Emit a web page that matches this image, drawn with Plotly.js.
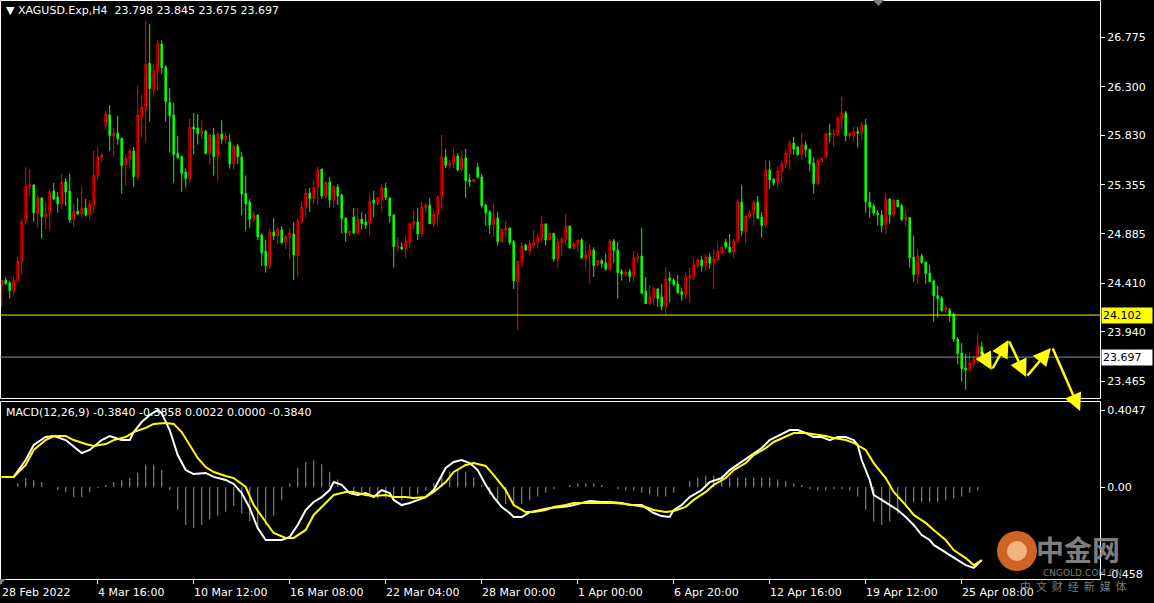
<!DOCTYPE html>
<html>
<head>
<meta charset="utf-8">
<script src="https://cdn.plot.ly/plotly-3.0.1.min.js"></script>
<style>
html,body{margin:0;padding:0;background:#000;}
#chart{width:1154px;height:603px;}
</style>
</head>
<body>
<div id="chart"></div>
<script>
// ---- Candles (H4 bars, index 0 = 28 Feb 2022 16:00) ----
const openP = [24.385,24.436,24.411,24.337,24.433,24.616,25.001,25.338,25.354,25.074,25.228,25.049,25.078,25.296,25.238,25.174,25.383,25.296,25.020,25.103,25.074,25.132,25.068,25.155,25.447,25.617,25.925,26.027,25.828,25.854,25.803,25.549,25.607,25.681,25.434,26.005,26.079,26.525,26.271,26.444,26.711,26.489,26.149,26.027,25.658,25.629,25.479,25.415,25.912,25.902,25.847,25.873,25.655,25.835,25.626,25.844,25.799,25.767,25.559,25.729,25.623,25.273,25.190,
25.030,25.065,24.872,24.718,24.577,24.901,24.866,24.921,24.808,24.847,24.882,24.673,25.001,25.139,25.276,25.222,25.331,25.507,25.241,25.382,25.212,25.334,25.257,25.036,24.892,25.046,24.888,25.026,24.997,24.985,25.209,25.183,25.215,25.325,25.228,25.065,24.757,24.757,24.741,24.808,24.975,24.997,24.882,25.135,25.161,24.981,25.068,25.235,25.623,25.540,25.559,25.633,25.501,25.614,25.401,25.385,25.524,25.431,25.161,25.094,24.972,
25.036,24.808,24.914,24.940,24.808,24.423,24.609,24.776,24.719,24.776,24.799,24.837,24.978,24.828,24.889,24.645,24.799,24.831,24.959,24.754,24.783,24.824,24.645,24.670,24.728,24.587,24.625,24.603,24.539,24.815,24.728,24.520,24.488,24.520,24.472,24.645,24.670,24.334,24.212,24.266,24.353,24.276,24.183,24.459,24.439,24.401,24.327,24.298,24.462,24.472,24.574,24.632,24.577,24.661,24.606,24.632,24.699,24.805,24.757,24.709,24.805,25.190,
24.905,25.049,25.078,25.190,25.046,24.969,25.498,25.411,25.376,25.482,25.549,25.655,25.758,25.719,25.646,25.739,25.697,25.565,25.363,25.578,25.623,25.848,25.838,25.838,25.986,26.047,25.828,25.828,25.867,25.857,25.931,25.190,25.152,25.084,25.065,24.972,25.219,25.068,25.209,25.155,25.020,25.039,24.661,24.491,24.670,24.613,24.507,24.430,24.289,24.266,24.151,24.151,24.112,23.871,23.737,23.593,23.576,23.634,23.663,23.798];
const highP = [24.436,24.465,24.430,24.478,24.667,25.033,25.524,25.508,25.363,25.254,25.238,25.199,25.315,25.373,25.286,25.460,25.421,25.460,25.177,25.228,25.341,25.219,25.209,25.681,25.726,25.661,26.075,26.123,25.905,26.018,25.809,25.649,25.700,25.719,26.310,26.220,26.932,26.903,26.525,26.749,26.749,26.508,26.287,26.143,25.828,25.629,25.514,25.989,26.046,26.037,25.976,25.883,25.851,25.899,25.867,25.976,25.857,25.841,25.738,25.748,25.674,25.444,25.219,
25.100,25.065,24.888,24.824,24.940,25.036,24.946,24.959,24.872,24.940,24.997,25.026,25.199,25.315,25.325,25.411,25.527,25.507,25.385,25.431,25.353,25.363,25.273,25.036,24.908,25.132,25.132,25.090,25.074,25.267,25.296,25.241,25.360,25.373,25.238,25.071,24.853,24.805,24.863,24.991,25.103,25.132,25.190,25.180,25.228,25.103,25.257,25.835,25.700,25.591,25.710,25.662,25.681,25.700,25.459,25.408,25.565,25.459,25.171,25.113,25.171,
25.094,24.927,25.007,24.940,24.824,24.619,24.805,24.786,24.824,24.921,24.882,25.055,24.985,24.889,24.889,24.840,24.856,25.075,24.959,24.802,24.824,24.844,24.805,24.786,24.754,24.625,24.642,24.690,24.834,24.834,24.805,24.545,24.536,24.545,24.719,24.699,24.940,24.468,24.391,24.375,24.362,24.401,24.558,24.520,24.459,24.488,24.366,24.510,24.558,24.651,24.651,24.674,24.690,24.699,24.738,24.796,24.757,24.834,24.882,24.834,25.219,25.354,
25.055,25.113,25.200,25.248,25.094,25.594,25.585,25.420,25.536,25.585,25.694,25.787,25.816,25.729,25.854,25.777,25.703,25.623,25.613,25.613,25.854,25.944,25.893,26.008,26.201,26.066,25.864,25.912,25.912,25.960,25.989,25.286,25.171,25.113,25.113,25.277,25.229,25.219,25.209,25.171,25.113,25.046,24.866,24.738,24.693,24.616,24.584,24.443,24.385,24.285,24.199,24.170,24.125,23.891,23.833,23.730,23.740,23.711,23.923,23.845];
const lowP = [24.183,24.391,24.260,24.289,24.423,24.487,24.969,25.241,25.001,24.943,24.837,24.930,24.914,25.209,25.087,25.126,25.151,24.988,24.953,25.065,25.036,25.052,25.020,25.087,25.402,25.572,25.883,25.684,25.626,25.742,25.270,25.347,25.511,25.334,25.402,25.809,25.761,25.963,26.204,26.261,26.425,25.963,25.665,25.376,25.604,25.290,25.328,25.376,25.645,25.742,25.796,25.652,25.549,25.444,25.386,25.751,25.751,25.511,25.501,25.556,25.065,24.914,24.943,
24.991,24.824,24.574,24.510,24.545,24.824,24.786,24.792,24.737,24.644,24.439,24.468,24.985,25.039,25.094,25.171,25.161,25.219,25.231,25.139,25.135,25.161,24.888,24.808,24.863,24.879,24.885,24.924,24.930,24.866,25.046,25.155,25.097,25.209,24.991,24.558,24.712,24.728,24.654,24.744,24.921,24.824,24.853,25.087,24.978,24.943,24.962,25.116,25.517,25.504,25.517,25.482,25.488,25.231,25.337,25.385,25.414,25.135,24.962,24.885,24.856,
24.770,24.808,24.847,24.776,24.353,23.958,24.565,24.719,24.680,24.751,24.744,24.802,24.770,24.828,24.616,24.558,24.674,24.776,24.738,24.728,24.709,24.642,24.539,24.404,24.468,24.577,24.558,24.529,24.529,24.606,24.260,24.433,24.481,24.423,24.423,24.603,24.301,24.212,24.199,24.199,24.183,24.144,24.106,24.221,24.375,24.308,24.241,24.250,24.221,24.443,24.558,24.520,24.532,24.548,24.353,24.622,24.699,24.738,24.699,24.654,24.796,24.866,
24.789,25.030,24.962,25.023,24.847,24.953,25.315,25.344,25.328,25.376,25.520,25.501,25.642,25.636,25.597,25.623,25.482,25.270,25.354,25.568,25.607,25.761,25.722,25.828,25.889,25.771,25.800,25.771,25.713,25.780,25.087,25.039,25.059,24.962,24.895,24.876,24.982,25.039,25.139,25.007,24.953,24.558,24.423,24.404,24.597,24.404,24.417,24.038,24.077,24.135,24.125,24.038,23.846,23.625,23.461,23.384,23.548,23.596,23.634,23.675];
const closeP = [24.436,24.404,24.337,24.433,24.622,24.994,25.341,25.354,25.087,25.228,25.049,25.074,25.283,25.219,25.171,25.379,25.286,25.017,25.100,25.074,25.129,25.065,25.167,25.447,25.620,25.642,26.034,25.828,25.854,25.799,25.540,25.610,25.681,25.434,26.027,26.101,26.515,26.281,26.451,26.711,26.483,26.156,26.021,25.645,25.617,25.463,25.415,25.909,25.892,25.847,25.873,25.655,25.835,25.626,25.844,25.796,25.825,25.559,25.729,25.626,25.267,25.174,25.026,
25.062,24.856,24.702,24.577,24.898,24.863,24.930,24.798,24.856,24.888,24.680,25.007,25.142,25.276,25.222,25.331,25.498,25.248,25.379,25.212,25.337,25.248,25.030,24.895,24.908,24.892,25.023,24.981,24.968,25.196,25.180,25.231,25.325,25.231,25.058,24.760,24.766,24.737,24.814,24.978,24.997,24.882,25.142,25.161,24.981,25.071,25.235,25.623,25.540,25.565,25.633,25.498,25.610,25.395,25.385,25.408,25.431,25.155,25.087,24.968,25.036,
24.808,24.927,24.940,24.799,24.433,24.619,24.767,24.728,24.786,24.802,24.844,24.978,24.824,24.889,24.642,24.805,24.834,24.959,24.747,24.786,24.824,24.651,24.680,24.728,24.577,24.625,24.597,24.545,24.815,24.722,24.510,24.500,24.516,24.472,24.651,24.661,24.314,24.212,24.276,24.356,24.260,24.183,24.449,24.433,24.395,24.318,24.298,24.468,24.481,24.584,24.632,24.574,24.661,24.603,24.642,24.715,24.757,24.757,24.709,24.815,25.190,24.911,
25.055,25.084,25.190,25.033,24.962,25.495,25.402,25.373,25.488,25.556,25.658,25.758,25.700,25.646,25.739,25.694,25.559,25.367,25.585,25.610,25.845,25.838,25.848,25.998,26.047,25.828,25.848,25.864,25.851,25.931,25.193,25.142,25.084,25.068,24.962,25.219,25.065,25.209,25.145,25.020,25.046,24.654,24.491,24.670,24.606,24.500,24.423,24.289,24.260,24.144,24.173,24.096,23.871,23.730,23.586,23.573,23.637,23.676,23.804,23.697];

// ---- MACD panel readings: [bar index], value ----
const macdBars = [0,3,6,8,11,13,16,18,20,22,25,27,30,32,33,35,37,39,40,42,44,46,48,51,53,56,58,60,62,64,66,67,70,72,74,76,78,80,82,83,85,87,89,91,93,95,97,98,100,102,104,106,108,110,111,113,115,117,119,121,123,125,127,128,130,132,135,137,140,142,145,147,150,152,155,157,160,162,163,165,167,168,170,172,175,177,180,182,185,187,190,192,195,197,199,201,203,205,207,209,211,213,214,215,217,218,220,222,224,226,228,230,232,233,235,237,239,241,243,245];
const macdMain = [0.053,0.053,0.142,0.221,0.263,0.268,0.247,0.211,0.179,0.195,0.247,0.268,0.247,0.247,0.289,0.342,0.379,0.405,0.389,0.300,0.168,0.089,0.068,0.074,0.053,0.037,0.016,-0.032,-0.111,-0.216,-0.279,-0.279,-0.279,-0.263,-0.200,-0.121,-0.079,-0.053,-0.016,0.026,0.011,-0.032,-0.042,-0.032,-0.053,-0.016,-0.032,-0.068,-0.095,-0.084,-0.068,-0.053,-0.016,0.063,0.100,0.132,0.142,0.126,0.089,0.011,-0.053,-0.105,-0.137,-0.158,-0.158,-0.132,-0.121,-0.111,-0.105,-0.100,-0.084,-0.074,-0.079,-0.079,-0.084,-0.095,-0.095,-0.121,-0.137,-0.153,-0.158,-0.121,-0.095,-0.053,-0.016,0.026,0.047,0.089,0.132,0.163,0.205,0.247,0.279,0.300,0.300,0.284,0.263,0.263,0.247,0.263,0.263,0.247,0.221,0.142,0.037,-0.042,-0.068,-0.095,-0.121,-0.158,-0.200,-0.253,-0.279,-0.305,-0.332,-0.358,-0.384,-0.411,-0.426,-0.384];
const sigBars = [0,3,6,8,11,13,16,18,21,23,26,28,31,33,36,38,41,43,45,47,49,51,53,56,58,61,63,66,68,71,73,76,78,81,83,86,88,91,93,96,98,101,103,106,108,111,113,116,118,121,123,126,128,131,133,136,138,141,143,146,148,151,153,156,158,161,163,166,168,171,173,176,178,181,183,186,188,191,193,196,198,201,203,206,208,211,213,216,218,221,223,226,228,231,233,236,238,241,243,245];
const sigLine = [0.053,0.053,0.116,0.195,0.247,0.268,0.268,0.247,0.226,0.216,0.226,0.247,0.263,0.289,0.311,0.332,0.337,0.332,0.289,0.221,0.153,0.105,0.079,0.058,0.047,0.000,-0.095,-0.184,-0.242,-0.268,-0.268,-0.226,-0.147,-0.084,-0.042,-0.026,-0.026,-0.042,-0.047,-0.042,-0.053,-0.053,-0.058,-0.053,-0.026,0.026,0.079,0.116,0.126,0.111,0.063,-0.016,-0.095,-0.132,-0.132,-0.121,-0.105,-0.095,-0.084,-0.084,-0.084,-0.084,-0.084,-0.089,-0.095,-0.105,-0.121,-0.132,-0.126,-0.105,-0.068,-0.026,0.011,0.047,0.089,0.126,0.168,0.205,0.237,0.263,0.284,0.284,0.279,0.268,0.258,0.247,0.232,0.195,0.126,0.047,-0.026,-0.095,-0.147,-0.189,-0.226,-0.279,-0.332,-0.374,-0.411,-0.386];
const histBars = [4,6,8,10,12,14,16,18,20,22,24,26,28,30,32,34,36,38,40,42,44,46,48,50,52,54,56,58,60,62,64,66,68,70,72,74,76,78,80,82,84,86,88,90,92,94,96,98,100,102,104,106,108,110,112,114,116,118,120,122,124,126,128,130,132,134,136,138,140,142,144,146,148,150,152,154,156,158,160,162,164,166,168,170,172,174,176,178,180,182,184,186,188,190,192,194,196,198,200,202,204,206,208,210,212,214,216,218,220,222,224,226,228,230,232,234,236,238,240,242,244];
const histVals = [0.02,0.047,0.037,0.026,0,-0.016,-0.026,-0.053,-0.053,-0.026,-0.005,0.011,0.026,0.037,0.047,0.075,0.116,0.116,0.089,-0.016,-0.12,-0.2,-0.216,-0.2,-0.17,-0.15,-0.13,-0.1,-0.14,-0.18,-0.21,-0.2,-0.15,-0.07,0.02,0.1,0.13,0.14,0.12,0.08,0.04,0.0,-0.02,-0.03,-0.05,-0.06,-0.06,-0.07,-0.07,-0.05,-0.04,-0.02,0.02,0.06,0.08,0.09,0.08,0.05,0.01,-0.04,-0.07,-0.09,-0.1,-0.09,-0.07,-0.05,-0.03,-0.01,0.0,0.01,0.02,0.02,0.02,0.01,0.0,-0.01,-0.02,-0.02,-0.03,-0.04,-0.05,-0.05,-0.03,0.0,0.03,0.05,0.06,0.06,0.06,0.05,0.05,0.05,0.05,0.05,0.05,0.04,0.03,0.02,0.01,-0.01,-0.02,-0.02,-0.01,-0.01,-0.02,-0.05,-0.12,-0.18,-0.2,-0.18,-0.14,-0.1,-0.08,-0.08,-0.08,-0.08,-0.07,-0.06,-0.05,-0.03,-0.02];

// ---- Axis labels / levels ----
const priceTicks = [26.775,26.300,25.830,25.355,24.885,24.410,23.940,23.465];
const macdTicks = [0.4047,0.0,-0.458];
const macdTickText = ['0.4047','0.00','-0.458'];
const timeTickBars = [0,24,48,72,96,120,144,168,192,216,240];
const timeTickLabels = ['28 Feb 2022','4 Mar 16:00','10 Mar 12:00','16 Mar 08:00','22 Mar 04:00','28 Mar 00:00','1 Apr 00:00','6 Apr 20:00','12 Apr 16:00','19 Apr 12:00','25 Apr 08:00'];
const levelLine = 24.102;
const bidLine = 23.697;
// projected zigzag path drawn with arrows (bar index, price)
const pathBars = [244.75,247.5,251.7,256.1,262.3];
const pathPrices = [23.765,23.573,23.862,23.505,23.785];
const finalArrowBar = 269.6, finalArrowMacd = 0.40;

const bars = openP.map((_, i) => i);
const FONT = 'DejaVu Sans';
const H = 579, W = 1100;   // plot area in px
const py = p => 1 - p / H;  // pixel row -> paper y
const px = p => p / W;      // pixel col -> paper x

const traces = [
  {type:'candlestick', x:bars, open:openP, high:highP, low:lowP, close:closeP,
   xaxis:'x', yaxis:'y', whiskerwidth:0,
   increasing:{line:{color:'#ff0000', width:1}, fillcolor:'#000000'},
   decreasing:{line:{color:'#00ff00', width:1}, fillcolor:'#00ff00'},
   hoverinfo:'skip', showlegend:false},
  {type:'bar', x:histBars, y:histVals, xaxis:'x', yaxis:'y2', width:0.3,
   marker:{color:'#7f7f7f', line:{width:0}}, hoverinfo:'skip', showlegend:false},
  {type:'scatter', mode:'lines', x:macdBars, y:macdMain, xaxis:'x', yaxis:'y2',
   line:{color:'#ffffff', width:2}, hoverinfo:'skip', showlegend:false},
  {type:'scatter', mode:'lines', x:sigBars, y:sigLine, xaxis:'x', yaxis:'y2',
   line:{color:'#ffff00', width:2}, hoverinfo:'skip', showlegend:false}
];

const annotations = [];
annotations.push({xref:'paper', yref:'paper', x:0, y:py(10), xanchor:'left', yanchor:'middle', xshift:4,
  text:'▼\u00a0XAGUSD.Exp,H4\u00a0\u00a023.798 23.845 23.675 23.697', showarrow:false,
  font:{family:FONT, size:11, color:'#ffffff'}});
annotations.push({xref:'paper', yref:'paper', x:0, y:py(412), xanchor:'left', yanchor:'middle', xshift:4,
  text:'MACD(12,26,9) -0.3840 -0.3858 0.0022 0.0000 -0.3840', showarrow:false,
  font:{family:FONT, size:11, color:'#ffffff'}});
timeTickBars.forEach((b, k) => annotations.push({xref:'x', yref:'paper', x:b, y:py(592), xanchor:'left', yanchor:'middle',
  xshift:-2, text:timeTickLabels[k], showarrow:false, font:{family:FONT, size:11, color:'#ffffff'}}));
annotations.push({xref:'paper', yref:'y', x:1, y:levelLine, xanchor:'left', yanchor:'middle', xshift:1,
  text:levelLine.toFixed(3), showarrow:false, bgcolor:'#ffff00', borderpad:1, width:48, align:'left',
  font:{family:FONT, size:11, color:'#000000'}});
annotations.push({xref:'paper', yref:'y', x:1, y:bidLine, xanchor:'left', yanchor:'middle', xshift:1,
  text:bidLine.toFixed(3), showarrow:false, bgcolor:'#ffffff', borderpad:1, width:48, align:'left',
  font:{family:FONT, size:11, color:'#000000'}});
for (let k = 0; k < pathBars.length - 1; k++) {
  annotations.push({xref:'x', yref:'y', axref:'x', ayref:'y', x:pathBars[k+1], y:pathPrices[k+1],
    ax:pathBars[k], ay:pathPrices[k], showarrow:true, arrowhead:2, arrowsize:1.4, arrowwidth:2.5,
    arrowcolor:'#ffff00', text:''});
}
annotations.push({xref:'x', yref:'y2', x:finalArrowBar, y:finalArrowMacd, ax:-28, ay:-64,
  showarrow:true, arrowhead:2, arrowsize:1.4, arrowwidth:2.5, arrowcolor:'#ffff00', text:''});
// watermark
annotations.push({xref:'paper', yref:'paper', x:px(1078), y:py(549), xanchor:'center', yanchor:'middle',
  text:'<b>中金网</b>', showarrow:false, font:{family:'Noto Sans CJK SC', size:28, color:'rgba(150,150,150,0.85)'}});
annotations.push({xref:'paper', yref:'paper', x:px(1082), y:py(573), xanchor:'center', yanchor:'middle',
  text:'CNGOLD.COM.CN', showarrow:false, font:{family:FONT, size:9, color:'rgba(150,150,150,0.85)'}});
annotations.push({xref:'paper', yref:'paper', x:px(1073), y:py(586), xanchor:'center', yanchor:'middle',
  text:'中\u00a0\u00a0文\u00a0\u00a0财\u00a0\u00a0经\u00a0\u00a0新\u00a0\u00a0媒\u00a0\u00a0体', showarrow:false,
  font:{family:'Noto Sans CJK SC', size:11, color:'rgba(150,150,150,0.85)'}});

const shapes = [
  // panel frames (half-pixel aligned)
  {type:'rect', xref:'paper', yref:'paper', x0:px(0.5), x1:px(1100.5), y0:py(398.5), y1:py(0.5), line:{color:'#ffffff', width:1}},
  {type:'rect', xref:'paper', yref:'paper', x0:px(0.5), x1:px(1100.5), y0:py(579.5), y1:py(401.5), line:{color:'#ffffff', width:1}},
  {type:'line', xref:'paper', yref:'y', x0:0, x1:1, y0:levelLine, y1:levelLine, line:{color:'#f2f200', width:1}},
  {type:'line', xref:'paper', yref:'y', x0:0, x1:1, y0:bidLine, y1:bidLine, line:{color:'#7f8fa0', width:1}},
  {type:'path', xref:'paper', yref:'paper', path:`M ${px(873)} ${py(0)} L ${px(884)} ${py(0)} L ${px(878.5)} ${py(6)} Z`, fillcolor:'#808080', line:{width:0}},
  {type:'path', xref:'paper', yref:'paper', path:`M ${px(0)} ${py(579)} L ${px(6)} ${py(579)} L ${px(0)} ${py(585)} Z`, fillcolor:'#808080', line:{width:0}},
  {type:'circle', xref:'paper', yref:'paper', x0:px(997), x1:px(1037), y0:py(571), y1:py(531),
   fillcolor:'rgba(230,110,40,0.9)', line:{width:0}},
  {type:'circle', xref:'paper', yref:'paper', x0:px(1007), x1:px(1027), y0:py(561), y1:py(541),
   fillcolor:'rgba(250,200,150,0.8)', line:{width:0}}
];

const layout = {
  width:1154, height:603,
  margin:{l:0, r:54, t:0, b:24},
  paper_bgcolor:'#000000', plot_bgcolor:'#000000',
  showlegend:false, hovermode:false, boxgap:0.45,
  xaxis:{range:[-0.425, 274.575], anchor:'y2', showgrid:false, zeroline:false, rangeslider:{visible:false},
    tickmode:'array', tickvals:timeTickBars, showticklabels:false, ticks:'outside', ticklen:4, tickcolor:'#ffffff',
    showline:false},
  yaxis:{domain:[py(399), 1], range:[23.294, 27.134], side:'right', showgrid:false, zeroline:false,
    tickmode:'array', tickvals:priceTicks, ticktext:priceTicks.map(v => v.toFixed(3)), ticks:'outside', ticklen:4,
    tickcolor:'#ffffff', tickfont:{family:FONT, size:11, color:'#ffffff'}, fixedrange:true},
  yaxis2:{domain:[0, py(401)], range:[-0.4842, 0.4526], side:'right', showgrid:false, zeroline:false,
    tickmode:'array', tickvals:macdTicks, ticktext:macdTickText, ticks:'outside', ticklen:4,
    tickcolor:'#ffffff', tickfont:{family:FONT, size:11, color:'#ffffff'}, fixedrange:true},
  annotations:annotations,
  shapes:shapes
};

Plotly.newPlot('chart', traces, layout, {staticPlot:true, displayModeBar:false});
</script>
</body>
</html>
